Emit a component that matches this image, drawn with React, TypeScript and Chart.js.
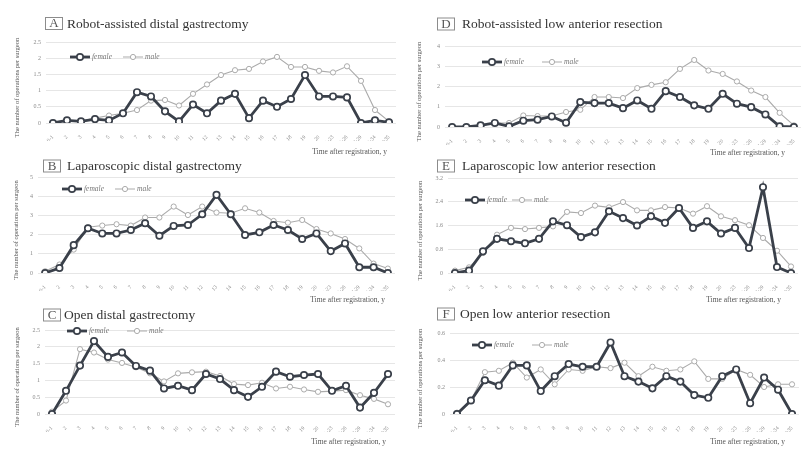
import React, { useEffect, useRef } from 'react';
import { Chart, registerables } from 'chart.js';

Chart.register(...registerables);

// x categories (years after registration)
const categories = [
  '0-1', '2', '3', '4', '5', '6', '7', '8', '9', '10',
  '11', '12', '13', '14', '15', '16', '17', '18', '19', '20',
  '21-23', '24-26', '27-29', '30-34', '≥35',
];

// A: Robot-assisted distal gastrectomy
const femaleA = [0, 0.08, 0.05, 0.12, 0.08, 0.3, 0.95, 0.82, 0.36, 0.05, 0.57, 0.3, 0.69, 0.9, 0.15, 0.69, 0.5, 0.74, 1.48, 0.82, 0.82, 0.79, 0, 0.08, 0.02];
const maleA = [0.02, 0.05, 0.05, 0.15, 0.23, 0.3, 0.4, 0.69, 0.71, 0.54, 0.9, 1.19, 1.48, 1.63, 1.67, 1.9, 2.04, 1.73, 1.73, 1.61, 1.56, 1.75, 1.3, 0.4, 0.05];
const ticksA = [0, 0.5, 1, 1.5, 2, 2.5];

// B: Laparoscopic distal gastrectomy
const femaleB = [0, 0.26, 1.45, 2.33, 2.06, 2.06, 2.24, 2.59, 1.94, 2.45, 2.5, 3.06, 4.07, 3.06, 1.98, 2.12, 2.5, 2.24, 1.77, 2.06, 1.14, 1.54, 0.3, 0.3, 0];
const maleB = [0.09, 0.44, 1.22, 2.38, 2.47, 2.54, 2.47, 2.89, 2.89, 3.46, 3.02, 3.46, 3.15, 3.11, 3.37, 3.15, 2.71, 2.62, 2.76, 2.29, 2.06, 1.77, 1.28, 0.49, 0.23];
const ticksB = [0, 1, 2, 3, 4, 5];

// C: Open distal gastrectomy
const femaleC = [0, 0.69, 1.44, 2.17, 1.7, 1.83, 1.43, 1.29, 0.76, 0.84, 0.71, 1.19, 1.04, 0.71, 0.51, 0.81, 1.26, 1.11, 1.16, 1.19, 0.69, 0.84, 0.19, 0.63, 1.19];
const maleC = [0.07, 0.4, 1.93, 1.83, 1.62, 1.52, 1.39, 1.21, 0.97, 1.21, 1.24, 1.26, 1.13, 0.89, 0.86, 0.93, 0.76, 0.81, 0.73, 0.66, 0.68, 0.71, 0.56, 0.45, 0.29];
const ticksC = [0, 0.5, 1, 1.5, 2, 2.5];

// D: Robot-assisted low anterior resection
const femaleD = [0, 0, 0.08, 0.2, 0.03, 0.31, 0.36, 0.52, 0.21, 1.23, 1.18, 1.18, 0.93, 1.31, 0.9, 1.77, 1.48, 1.07, 0.9, 1.64, 1.15, 0.98, 0.62, 0.03, 0];
const maleD = [0, 0, 0.05, 0.2, 0.2, 0.57, 0.54, 0.54, 0.74, 0.85, 1.48, 1.48, 1.43, 1.92, 2.08, 2.21, 2.87, 3.31, 2.79, 2.62, 2.25, 1.8, 1.48, 0.7, 0.08];
const ticksD = [0, 1, 2, 3, 4];

// E: Laparoscopic low anterior resection
const femaleE = [0, 0.08, 0.73, 1.15, 1.07, 1.0, 1.15, 1.74, 1.61, 1.21, 1.37, 2.08, 1.85, 1.6, 1.91, 1.69, 2.19, 1.52, 1.74, 1.33, 1.52, 0.84, 2.89, 0.2, 0];
const maleE = [0.08, 0.19, 0.67, 1.29, 1.52, 1.48, 1.52, 1.57, 2.06, 2.02, 2.27, 2.21, 2.39, 2.11, 2.11, 2.22, 2.19, 2.0, 2.25, 1.91, 1.78, 1.61, 1.18, 0.75, 0.22];
const ticksE = [0, 0.8, 1.6, 2.4, 3.2];

// F: Open low anterior resection
const femaleF = [0, 0.1, 0.25, 0.21, 0.36, 0.36, 0.17, 0.28, 0.37, 0.35, 0.35, 0.53, 0.28, 0.24, 0.19, 0.28, 0.24, 0.14, 0.12, 0.28, 0.33, 0.08, 0.27, 0.18, 0];
const maleF = [0.01, 0.1, 0.31, 0.32, 0.38, 0.27, 0.33, 0.22, 0.33, 0.32, 0.35, 0.34, 0.38, 0.28, 0.35, 0.32, 0.33, 0.39, 0.26, 0.26, 0.33, 0.29, 0.2, 0.22, 0.22];
const ticksF = [0, 0.2, 0.4, 0.6];

const FEMALE = '#3a404a';
const MALE = '#ababab';
const SERIF = '"Liberation Serif", "DejaVu Serif", serif';
const CANVAS_W = 405;
const CANVAS_H = 160;
const X_AXIS_H = 18;

interface Panel {
  letter: string;
  title: string;
  female: number[];
  male: number[];
  ticks: number[];
  col: number;
  top: number;
  areaL: number;
  areaR: number;
  areaT: number;
  areaB: number;
  titleY: number;
  boxX: number;
  textX: number;
  legendX: number;
  legendY: number;
  legendGap: number;
  xTitleY: number;
  xTitleRight: number;
  yTitleX: number;
}

const panels: Panel[] = [
  { letter: 'A', title: 'Robot-assisted distal gastrectomy', female: femaleA, male: maleA, ticks: ticksA,
    col: 0, top: 0, areaL: 46, areaR: 396, areaT: 42, areaB: 123, titleY: 23.5, boxX: 45, textX: 67,
    legendX: 70, legendY: 57, legendGap: 53, xTitleY: 152, xTitleRight: 387, yTitleX: 17 },
  { letter: 'B', title: 'Laparoscopic distal gastrectomy', female: femaleB, male: maleB, ticks: ticksB,
    col: 0, top: 148, areaL: 38, areaR: 395, areaT: 177, areaB: 273, titleY: 166, boxX: 43, textX: 67,
    legendX: 62, legendY: 189, legendGap: 53, xTitleY: 300, xTitleRight: 385, yTitleX: 16 },
  { letter: 'C', title: 'Open distal gastrectomy', female: femaleC, male: maleC, ticks: ticksC,
    col: 0, top: 296, areaL: 45, areaR: 395, areaT: 330, areaB: 414, titleY: 315, boxX: 43, textX: 64,
    legendX: 67, legendY: 331, legendGap: 60, xTitleY: 442, xTitleRight: 386, yTitleX: 17 },
  { letter: 'D', title: 'Robot-assisted low anterior resection', female: femaleD, male: maleD, ticks: ticksD,
    col: 405, top: 0, areaL: 445, areaR: 801, areaT: 46, areaB: 127, titleY: 24, boxX: 437, textX: 462,
    legendX: 482, legendY: 62, legendGap: 60, xTitleY: 153, xTitleRight: 785, yTitleX: 419 },
  { letter: 'E', title: 'Laparoscopic low anterior resection', female: femaleE, male: maleE, ticks: ticksE,
    col: 405, top: 148, areaL: 448, areaR: 798, areaT: 178, areaB: 273, titleY: 166, boxX: 437, textX: 462,
    legendX: 465, legendY: 200, legendGap: 47, xTitleY: 300, xTitleRight: 781, yTitleX: 420 },
  { letter: 'F', title: 'Open low anterior resection', female: femaleF, male: maleF, ticks: ticksF,
    col: 405, top: 296, areaL: 450, areaR: 799, areaT: 333, areaB: 414, titleY: 314, boxX: 437, textX: 460,
    legendX: 472, legendY: 345, legendGap: 60, xTitleY: 442, xTitleRight: 785, yTitleX: 420 },
];

// draws panel title, legend and axis titles (in page coords shifted to the canvas)
const decorPlugin = {
  id: 'panelDecor',
  afterDraw(chart: Chart, _args: unknown, opts: { panel: Panel }) {
    const p = opts.panel;
    if (!p) return;
    const ctx = chart.ctx;
    const ox = p.col;
    const oy = p.top;
    const area = chart.chartArea;
    ctx.save();

    // boxed letter + title
    ctx.strokeStyle = '#8c8c8c';
    ctx.lineWidth = 1;
    ctx.strokeRect(p.boxX - ox + 0.5, p.titleY - oy - 6, 17, 12);
    ctx.fillStyle = '#555';
    ctx.font = `13px ${SERIF}`;
    ctx.textAlign = 'center';
    ctx.textBaseline = 'middle';
    ctx.fillText(p.letter, p.boxX - ox + 9, p.titleY - oy + 0.5);
    ctx.fillStyle = '#333';
    ctx.font = `13.5px ${SERIF}`;
    ctx.textAlign = 'left';
    ctx.fillText(p.title, p.textX - ox, p.titleY - oy + 0.5);

    // legend
    const lx = p.legendX - ox;
    const ly = p.legendY - oy;
    const items = [
      { label: 'female', color: FEMALE, width: 2.8, r: 3.2, x: lx },
      { label: 'male', color: MALE, width: 1, r: 2.6, x: lx + p.legendGap },
    ];
    items.forEach((it) => {
      ctx.strokeStyle = it.color;
      ctx.lineWidth = it.width;
      ctx.beginPath();
      ctx.moveTo(it.x, ly);
      ctx.lineTo(it.x + 20, ly);
      ctx.stroke();
      ctx.beginPath();
      ctx.arc(it.x + 10, ly, it.r, 0, Math.PI * 2);
      ctx.fillStyle = '#fff';
      ctx.fill();
      ctx.lineWidth = it.width > 1 ? 1.7 : 1;
      ctx.stroke();
      ctx.fillStyle = '#777';
      ctx.font = `italic 7.5px ${SERIF}`;
      ctx.textAlign = 'left';
      ctx.fillText(it.label, it.x + 22, ly + 0.5);
    });

    // x axis title
    ctx.fillStyle = '#555';
    ctx.font = `7.5px ${SERIF}`;
    ctx.textAlign = 'right';
    ctx.fillText('Time after registration, y', p.xTitleRight - ox, p.xTitleY - oy);

    // y axis title
    ctx.translate(p.yTitleX - ox, (area.top + area.bottom) / 2 + 5);
    ctx.rotate(-Math.PI / 2);
    ctx.font = `6.5px ${SERIF}`;
    ctx.textAlign = 'center';
    ctx.fillText('The number of operations per surgeon', 0, 0);
    ctx.restore();
  },
};

const PanelChart: React.FC<{ panel: Panel }> = ({ panel }) => {
  const canvasRef = useRef<HTMLCanvasElement | null>(null);

  useEffect(() => {
    if (!canvasRef.current) return;
    const p = panel;
    const yWidth = p.areaL - p.col;
    const ticks = p.ticks;
    const chart = new Chart(canvasRef.current, {
      type: 'line',
      data: {
        labels: categories,
        datasets: [
          {
            label: 'female',
            data: p.female,
            borderColor: FEMALE,
            borderWidth: 2.8,
            pointRadius: 3.2,
            pointBorderWidth: 1.7,
            pointBackgroundColor: '#fff',
            pointBorderColor: FEMALE,
            tension: 0,
          },
          {
            label: 'male',
            data: p.male,
            borderColor: MALE,
            borderWidth: 1.1,
            pointRadius: 2.6,
            pointBorderWidth: 1,
            pointBackgroundColor: '#fff',
            pointBorderColor: MALE,
            tension: 0,
          },
        ],
      },
      options: {
        responsive: false,
        animation: false,
        layout: {
          padding: {
            left: 0,
            right: p.col + CANVAS_W - p.areaR,
            top: p.areaT - p.top,
            bottom: CANVAS_H - (p.areaB - p.top) - X_AXIS_H,
          },
        },
        plugins: {
          legend: { display: false },
          tooltip: { enabled: false },
          panelDecor: { panel: p },
        } as any,
        scales: {
          x: {
            offset: true,
            grid: { display: false },
            border: { display: false },
            ticks: {
              autoSkip: false,
              minRotation: 45,
              maxRotation: 45,
              padding: 3,
              color: '#8a8a8a',
              font: { family: SERIF, size: 5.5 },
            },
            afterFit: (scale: any) => {
              scale.height = X_AXIS_H;
            },
          },
          y: {
            min: 0,
            max: ticks[ticks.length - 1],
            grid: { color: '#e6e6e6', lineWidth: 1, drawTicks: false },
            border: { display: false },
            ticks: {
              stepSize: ticks[1] - ticks[0],
              padding: 5,
              color: '#8a8a8a',
              font: { family: SERIF, size: 6 },
              callback: (v: any) => String(Math.round(Number(v) * 100) / 100),
            },
            afterFit: (scale: any) => {
              scale.width = yWidth;
            },
          },
        },
      },
      plugins: [decorPlugin as any],
    });
    return () => {
      chart.destroy();
    };
  }, [panel]);

  return (
    <canvas
      ref={canvasRef}
      width={CANVAS_W}
      height={CANVAS_H}
      style={{ position: 'absolute', left: panel.col, top: panel.top, width: CANVAS_W, height: CANVAS_H }}
    />
  );
};

export default function App() {
  return (
    <div style={{ position: 'absolute', left: 0, top: 0, width: 810, height: 454, overflow: 'hidden', background: '#fff' }}>
      {panels.map((p) => (
        <PanelChart key={p.letter} panel={p} />
      ))}
    </div>
  );
}
